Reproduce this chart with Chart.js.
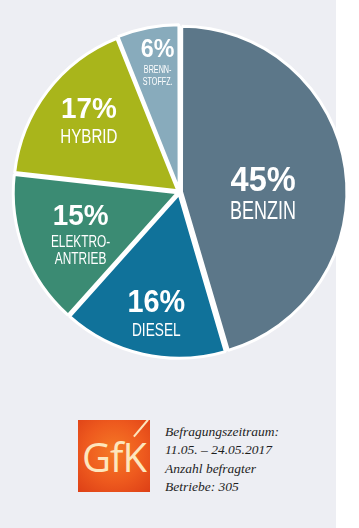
<!DOCTYPE html>
<html>
<head>
<meta charset="utf-8">
<script src="https://cdn.jsdelivr.net/npm/chart.js@4"></script>
<style>
  html, body { margin: 0; padding: 0; }
  body {
    width: 359px; height: 528px; overflow: hidden; position: relative;
    background: linear-gradient(to right, #edeef3 0, #edeef3 336px, #ffffff 336px);
  }
  #wrap { position: absolute; left: 0; top: 0; width: 359px; height: 384px; }
  #logo {
    position: absolute; left: 78px; top: 420px; width: 72px; height: 72px; overflow: hidden;
    background: radial-gradient(circle at 50% 45%, #f57a26 0%, #ee5a1e 55%, #dd3f16 100%);
    font-family: "Open Sans", "Liberation Sans", sans-serif; font-weight: 400;
    color: #fde6bd; font-size: 40px; line-height: 74px; text-align: center; letter-spacing: -1px;
  }
  #logo .slash {
    position: absolute; left: 62px; top: -3px; width: 1.5px; height: 22px;
    background: #fde6bd; transform: rotate(40deg);
  }
  #info {
    position: absolute; left: 165px; top: 423px;
    font-family: "Liberation Serif", "DejaVu Serif", serif; font-style: italic;
    font-size: 13.5px; line-height: 18.3px; color: #1e1e1e;
  }
</style>
</head>
<body>
<div id="wrap"><canvas id="pie" width="359" height="384"></canvas></div>
<div id="logo">GfK<div class="slash"></div></div>
<div id="info">Befragungszeitraum:<br>11.05. – 24.05.2017<br>Anzahl befragter<br>Betriebe: 305</div>
<script>
// Daten
var categories = ['BENZIN', 'DIESEL', 'ELEKTRO-ANTRIEB', 'HYBRID', 'BRENNSTOFFZ.'];
var shares = [45, 16, 15, 17, 6];
var labelLines = [['BENZIN'], ['DIESEL'], ['ELEKTRO-', 'ANTRIEB'], ['HYBRID'], ['BRENN-', 'STOFFZ.']];
var colors = ['#5c7789', '#10729a', '#3b8b73', '#a9b51b', '#88abbc'];

// Beschriftung: Abstand (Anteil vom Radius), Winkelkorrektur, Schriftgroessen
var labelDist = [0.51, 0.74, 0.65, 0.715, 0.815];
var labelTurn = [6.8, -1.7, -1, 2.1, 1.5];
var pctSize = [35, 31, 30, 30, 25];
var txtSize = [25, 19, 16.5, 21, 10];
var lineGap = [33, 31, 17, 27, 12];

var whiteDisc = {
  id: 'whiteDisc',
  beforeDatasetsDraw(chart) {
    var arc = chart.getDatasetMeta(0).data[0];
    var ctx = chart.ctx;
    ctx.save();
    ctx.fillStyle = '#ffffff';
    ctx.beginPath();
    ctx.arc(arc.x, arc.y, arc.outerRadius + 2, 0, Math.PI * 2);
    ctx.fill();
    ctx.restore();
  }
};

var sliceLabels = {
  id: 'sliceLabels',
  afterDatasetsDraw(chart) {
    var ctx = chart.ctx;
    chart.getDatasetMeta(0).data.forEach(function (arc, i) {
      var mid = (arc.startAngle + arc.endAngle) / 2 + labelTurn[i] * Math.PI / 180;
      var cx = arc.x + Math.cos(mid) * arc.outerRadius * labelDist[i];
      var cy = arc.y + Math.sin(mid) * arc.outerRadius * labelDist[i];
      var lines = labelLines[i];
      var total = pctSize[i] * 0.72 + 6 + lineGap[i] * (lines.length - 1) + txtSize[i] * 0.72;
      var top = cy - total / 2;
      ctx.save();
      ctx.fillStyle = '#ffffff';
      ctx.textAlign = 'center';
      ctx.textBaseline = 'alphabetic';
      // Prozentwert
      ctx.save();
      ctx.translate(cx, top + pctSize[i] * 0.72);
      ctx.scale(0.93, 1);
      ctx.font = 'bold ' + pctSize[i] + 'px "Liberation Sans", Arial, sans-serif';
      ctx.fillText(shares[i] + '%', 0, 0);
      ctx.restore();
      // Bezeichnung
      var base = top + pctSize[i] * 0.72 + (i === 4 ? 9 : 10) + txtSize[i] * 0.72;
      lines.forEach(function (t, k) {
        ctx.save();
        ctx.translate(cx, base + k * lineGap[i] * (lines.length > 1 ? 1 : 0));
        ctx.scale(0.72, 1);
        ctx.font = txtSize[i] + 'px "Liberation Sans", Arial, sans-serif';
        ctx.fillText(t, 0, 0);
        ctx.restore();
      });
      ctx.restore();
    });
  }
};

new Chart(document.getElementById('pie'), {
  type: 'pie',
  data: {
    labels: categories,
    datasets: [{
      data: shares,
      backgroundColor: colors,
      borderColor: '#ffffff',
      borderWidth: 3,
      offset: 8
    }]
  },
  options: {
    responsive: false,
    animation: false,
    radius: 164,
    layout: { padding: 0 },
    plugins: { legend: { display: false }, tooltip: { enabled: false } }
  },
  plugins: [whiteDisc, sliceLabels]
});
</script>
</body>
</html>
